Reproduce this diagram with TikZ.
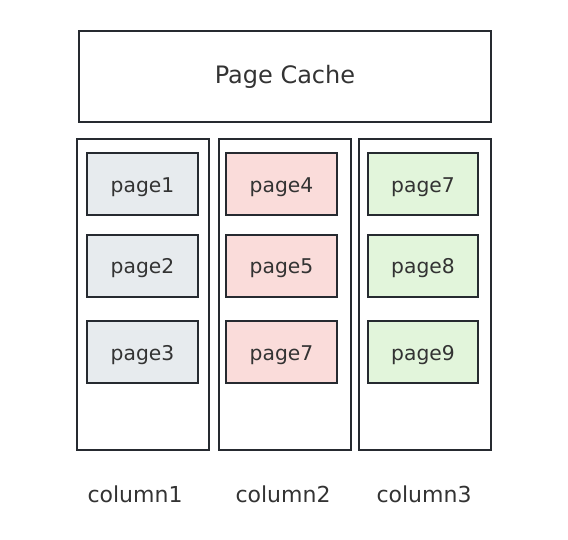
\documentclass[tikz,border=0pt]{standalone}
\usepackage{fontspec}
\setmainfont{DejaVu Sans}
\definecolor{edge}{HTML}{262A30}
\definecolor{txt}{HTML}{333333}
\definecolor{grayfill}{HTML}{E7EBEE}
\definecolor{pinkfill}{HTML}{FADCDA}
\definecolor{greenfill}{HTML}{E2F5DB}
\begin{document}
\begin{tikzpicture}[x=1pt,y=-1pt,
  box/.style={draw=edge,line width=2pt,rectangle,inner sep=0pt,text=txt},
  pagebox/.style={box,minimum width=111pt,minimum height=62pt,text height=20pt,text depth=4pt,font=\fontsize{20.3}{24}\selectfont},
  lab/.style={text=txt,font=\fontsize{22}{26}\selectfont,inner sep=0pt,anchor=base}]
\useasboundingbox (0,0) rectangle (568,540);
\node[box,minimum width=412pt,minimum height=91pt,text height=19pt,text depth=5pt,font=\fontsize{24}{28}\selectfont] (cache) at (285,76.5) {Page Cache};
\node[box,minimum width=132pt,minimum height=311pt] (c1) at (143,294.5) {};
\node[box,minimum width=132pt,minimum height=311pt] (c2) at (285,294.5) {};
\node[box,minimum width=132pt,minimum height=311pt] (c3) at (425,294.5) {};
\node[pagebox,fill=grayfill] (p1) at (142.5,184.5) {page1};
\node[pagebox,fill=grayfill] (p2) at (142.5,266) {page2};
\node[pagebox,fill=grayfill] (p3) at (142.5,352) {page3};
\node[pagebox,fill=pinkfill] (p4) at (281.5,184.5) {page4};
\node[pagebox,fill=pinkfill] (p5) at (281.5,266) {page5};
\node[pagebox,fill=pinkfill] (p6) at (281.5,352) {page7};
\node[pagebox,fill=greenfill,minimum width=110pt] (p7) at (423,184.5) {page7};
\node[pagebox,fill=greenfill,minimum width=110pt] (p8) at (423,266) {page8};
\node[pagebox,fill=greenfill,minimum width=110pt] (p9) at (423,352) {page9};
\node[lab] (l1) at (135,502) {column1};
\node[lab] (l2) at (283,502) {column2};
\node[lab] (l3) at (424,502) {column3};
\end{tikzpicture}
\end{document}
